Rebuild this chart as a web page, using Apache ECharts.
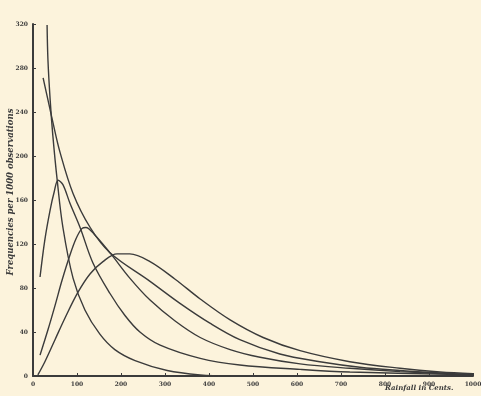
<!DOCTYPE html>
<html>
<head>
<meta charset="utf-8">
<script src="https://cdn.jsdelivr.net/npm/echarts@6/dist/echarts.min.js"></script>
<style>
  html, body { margin: 0; padding: 0; background: #fcf3dc; }
  #chart { width: 481px; height: 396px; }
</style>
</head>
<body>
<div id="chart"></div>
<script>
// values (rainfall in cents, frequency per 1000)
var xTicks = [0, 100, 200, 300, 400, 500, 600, 700, 800, 900, 1000];
var yTicks = [0, 40, 80, 120, 160, 200, 240, 280, 320];

// J-shaped curve coming down from the top
var curveE = [[32, 319], [34, 287], [39, 251], [45, 219], [55, 178], [68, 135], [91, 89], [118, 60], [152, 38], [186, 24], [232, 14], [305, 5], [380, 1], [448, 0]];
// second curve from the top
var curveA = [[23, 271], [34, 251], [45, 231], [61, 204], [91, 166], [130, 135], [175, 112], [266, 86], [334, 66], [402, 48], [470, 33], [561, 20], [652, 13], [743, 8], [834, 5], [925, 2.7], [1000, 1]];
// peaked curves
var curveB = [[16, 90], [27, 124], [39, 151], [48, 167], [57, 178], [68, 174], [84, 157], [107, 135], [136, 103], [175, 75], [209, 55], [243, 40], [289, 28], [380, 16], [470, 10], [607, 6], [720, 3.6], [1000, 1]];
var curveC = [[16, 19], [34, 42], [50, 64], [66, 87], [84, 110], [98, 125], [111, 134], [120, 135], [141, 128], [177, 111], [220, 89], [266, 69], [323, 50], [380, 35], [448, 24], [516, 17], [607, 11], [720, 7], [834, 4], [1000, 1]];
var curveD = [[11, 1], [27, 13], [50, 33], [73, 53], [102, 76], [130, 93], [159, 104], [191, 111], [220, 111], [266, 104], [323, 88], [380, 70], [448, 51], [523, 35], [607, 23], [720, 13], [834, 7], [925, 3.6], [1000, 2]];

var chart = echarts.init(document.getElementById('chart'));

function curve(data) {
  return {
    type: 'line',
    data: data,
    smooth: 0.35,
    symbol: 'none',
    lineStyle: { color: '#3b3b3b', width: 1.4 }
  };
}

chart.setOption({
  backgroundColor: '#fcf3dc',
  animation: false,
  grid: { left: 33, right: 8, top: 24, bottom: 20, outerBoundsMode: 'none' },
  xAxis: {
    type: 'value',
    min: 0,
    max: 1000,
    interval: 100,
    axisLine: { lineStyle: { color: '#3b3b3b', width: 2 } },
    axisTick: { inside: true, length: 3, lineStyle: { color: '#3b3b3b' } },
    splitLine: { show: false },
    axisLabel: {
      color: '#3b3b3b', fontSize: 6, fontWeight: 'bold', margin: 5,
      fontFamily: 'DejaVu Serif',
      customValues: xTicks,
      formatter: function (v) { return String(v); }
    }
  },
  yAxis: {
    type: 'value',
    min: 0,
    max: 320,
    interval: 40,
    axisLine: { show: true, lineStyle: { color: '#3b3b3b', width: 2 } },
    axisTick: { show: true, inside: true, length: 3, lineStyle: { color: '#3b3b3b' } },
    splitLine: { show: false },
    axisLabel: {
      color: '#3b3b3b', fontSize: 6, fontWeight: 'bold', margin: 5,
      fontFamily: 'DejaVu Serif',
      customValues: yTicks
    }
  },
  graphic: [
    {
      type: 'text', x: 11, y: 192, rotation: Math.PI / 2,
      style: {
        text: 'Frequencies per 1000 observations',
        fill: '#3b3b3b', font: 'italic bold 8.5px DejaVu Serif',
        textAlign: 'center', textVerticalAlign: 'middle'
      }
    },
    {
      type: 'text', left: 385, top: 385,
      style: { text: 'Rainfall in Cents.', fill: '#3b3b3b', font: 'italic bold 7px DejaVu Serif' }
    }
  ],
  series: [curve(curveE), curve(curveA), curve(curveB), curve(curveC), curve(curveD)]
});
</script>
</body>
</html>
